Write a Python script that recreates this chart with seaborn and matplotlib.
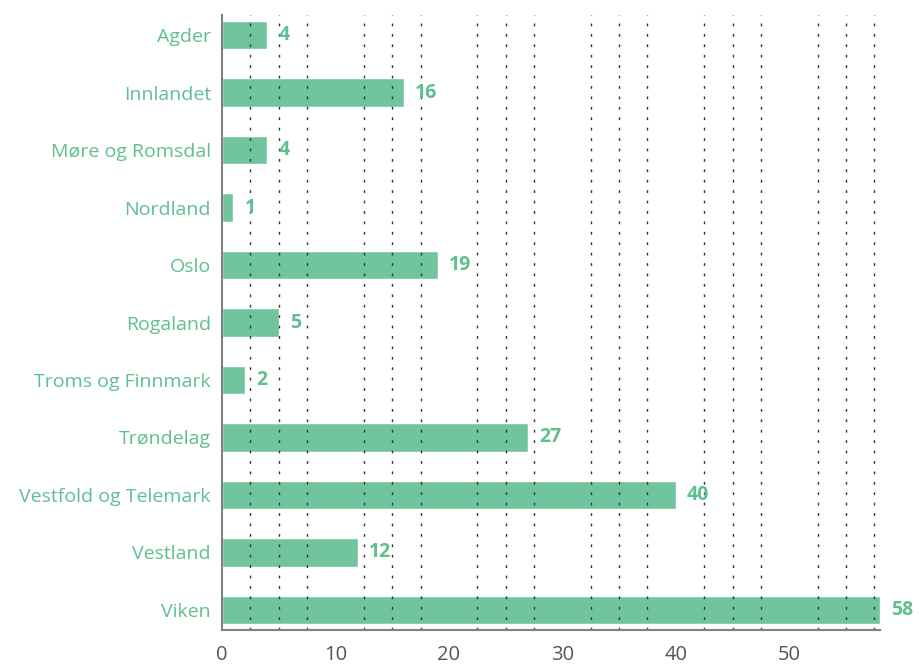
import matplotlib
matplotlib.use("Agg")
import matplotlib.pyplot as plt
import seaborn as sns
import pandas as pd
from matplotlib.ticker import MultipleLocator

categories = ["Agder", "Innlandet", "Møre og Romsdal", "Nordland", "Oslo", "Rogaland",
              "Troms og Finnmark", "Trøndelag", "Vestfold og Telemark", "Vestland", "Viken"]
values = [4, 16, 4, 1, 19, 5, 2, 27, 40, 12, 58]

GREEN = "#70c59f"
TEXT_GREEN = "#5fbf8f"

sns.set_style("white")
plt.rcParams['font.family'] = ['Open Sans', 'DejaVu Sans']

df = pd.DataFrame({"region": categories, "count": values})

fig = plt.figure(figsize=(9.19, 6.65), dpi=100)
ax = fig.add_axes([222/919, 1 - 630/665, (880-222)/919, (630-15)/665])

sns.barplot(data=df, y="region", x="count", orient="h", color=GREEN,
            saturation=1, width=0.5, ax=ax, zorder=2)

ax.set_xlim(0, 58)
ax.set_ylim(10.35, -0.35)
ax.set_xlabel("")
ax.set_ylabel("")

ax.xaxis.set_major_locator(MultipleLocator(10))
ax.xaxis.set_minor_locator(MultipleLocator(2.5))
ax.grid(False)
ax.grid(True, which="minor", axis="x", linestyle=(0, (2, 5.5)), color="#333333",
        linewidth=1.0, zorder=3)
ax.set_axisbelow(False)

ax.tick_params(axis="x", which="major", length=8, width=1, color="#333333",
               labelsize=14.5, labelcolor="#555555", direction="out", pad=3)
ax.tick_params(axis="x", which="minor", length=8, width=1, color="#333333",
               direction="inout")
ax.tick_params(axis="y", length=0, labelsize=14, labelcolor=TEXT_GREEN, pad=8)

for s in ["top", "right"]:
    ax.spines[s].set_visible(False)
for s in ["left", "bottom"]:
    ax.spines[s].set_color("#808080")
    ax.spines[s].set_linewidth(1.5)
    ax.spines[s].set_zorder(5)

for i, v in enumerate(values):
    ax.annotate(str(v), xy=(v, i), xytext=(8, 0), textcoords="offset points",
                va="center", ha="left", fontsize=14, fontweight="bold",
                color=TEXT_GREEN, annotation_clip=False)

fig.savefig("out.png", dpi=100)
